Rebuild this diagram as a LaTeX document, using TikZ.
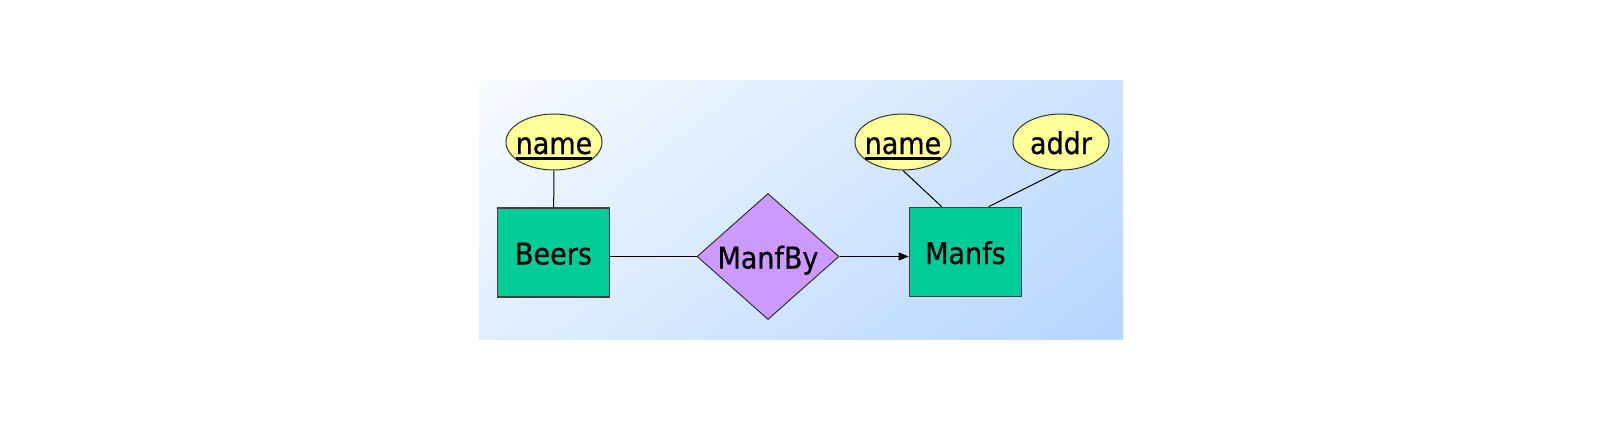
\documentclass[tikz,border=0pt]{standalone}
\usepackage{fontspec}
\setmainfont[FakeBold=0.6]{DejaVu Sans Condensed}
\usetikzlibrary{shapes.geometric,arrows.meta}

\definecolor{entityfill}{RGB}{0,204,153}
\definecolor{relfill}{RGB}{204,153,255}
\definecolor{attrfill}{RGB}{255,255,153}
\definecolor{panellight}{RGB}{248,251,255}
\definecolor{paneldark}{RGB}{181,213,255}

% thick underline for key attributes
\newcommand{\keyattr}[1]{\setbox0\hbox{#1}\rlap{\smash{\rule[-2.8pt]{\wd0}{1.3pt}}}\box0}

\tikzset{
	entity/.style={rectangle, draw=black!75, fill=entityfill, line width=0.8pt, minimum width=56pt, minimum height=44.5pt, inner sep=0pt},
	relship/.style={diamond, draw=black!80, fill=relfill, line width=0.5pt, minimum width=71pt, minimum height=63pt, inner sep=0pt},
	attribute/.style={ellipse, draw=black!80, fill=attrfill, line width=0.5pt, minimum width=48pt, minimum height=28pt, inner xsep=-3pt, inner ysep=0pt},
	link/.style={draw=black, line width=0.5pt}
}

\begin{document}
\begin{tikzpicture}[x=0.5pt,y=0.5pt,yscale=-1,xscale=1,every node/.style={font=\fontsize{15}{18}\selectfont, text height=12pt, text depth=0pt}]
	\useasboundingbox (0,0) rectangle (1603,420);

	% Background panel, gradient running down to the right
	\begin{scope}
		\clip (479,80) rectangle (1123,339);
		% transform canvas ignores yscale=-1, hence the -80
		\begin{scope}[transform canvas={shift={(479,-80)}, rotate=-52}]
			\shade [left color=panellight, right color=paneldark] (0,-700) rectangle (601,700);
		\end{scope}
	\end{scope}

	% Entity Node
	\node [entity] (beers) at (553.5,252.5) {Beers};
	% Entity Node
	\node [entity] (manfs) at (965.5,252) {Manfs};
	% Relationship Node
	\node [relship] (manfby) at (768,256.5) {ManfBy};
	% Attribute Node
	\node [attribute] (beername) at (554,142) {\keyattr{name}};
	% Attribute Node
	\node [attribute] (manfname) at (903,142) {\keyattr{name}};
	% Attribute Node
	\node [attribute] (manfaddr) at (1061,142) {addr};

	% Connection
	\draw [link] (beername) -- (beers);
	% Connection
	\draw [link] (manfname.south) -- ([xshift=16.5pt]manfs.north west);
	% Connection
	\draw [link] (manfaddr.south) -- ([xshift=40pt]manfs.north west);
	% Connection
	\draw [link] (beers.east |- manfby.west) -- (manfby.west);
	% Connection
	\draw [link, -{Triangle[length=5pt,width=4pt]}] (manfby.east) -- (manfs.west |- manfby.east);

\end{tikzpicture}
\end{document}
